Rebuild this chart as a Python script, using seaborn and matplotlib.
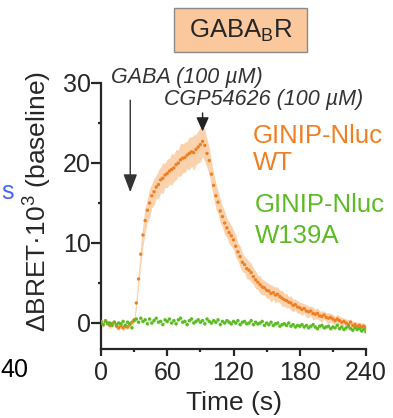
import numpy as np
import pandas as pd
import matplotlib
matplotlib.use("Agg")
import matplotlib.pyplot as plt
from matplotlib.patches import Rectangle
import seaborn as sns

sns.set_style("ticks")
plt.rcParams['font.family'] = ['Liberation Sans', 'DejaVu Sans']

time_s = list(range(0, 241, 2))

wt_mean = [0.2, -0.2, 0.3, 0.0, -0.3, -0.1, 0.1, -0.4, -0.6, -0.3, -0.6, -0.4, -0.5, -0.2, 0.1,
           0.4, 2.5, 5.5, 8.6, 11.0, 12.8, 14.1, 15.0, 15.9, 16.4, 17.0, 17.3, 17.9, 18.1, 18.5,
           18.7, 19.0, 19.2, 19.4, 19.8, 20.0, 20.4, 20.6, 20.7, 21.0, 21.2, 21.4, 21.3, 21.7, 22.0,
           22.3, 22.7, 22.2, 21.2, 20.3, 18.6, 17.2, 15.9, 15.1, 14.0, 13.3, 12.5, 11.9, 11.3, 10.9,
           10.4, 9.6, 8.9, 8.3, 7.6, 7.3, 6.8, 6.6, 6.3, 5.8, 5.4, 5.1, 4.8, 4.5, 4.4,
           4.1, 4.0, 3.7, 3.8, 3.5, 3.6, 3.3, 3.1, 2.9, 2.8, 2.6, 2.5, 2.2, 2.3, 2.0,
           1.9, 1.7, 1.8, 1.5, 1.4, 1.5, 1.2, 1.1, 1.2, 0.9, 0.8, 1.0, 0.7, 0.6, 0.7,
           0.5, 0.3, 0.5, 0.3, 0.1, 0.2, 0.0, -0.2, 0.1, -0.3, -0.2, -0.4, -0.3, -0.5, -0.4, -0.6]

wt_sem = [0.3, 0.4, 0.3, 0.3, 0.4, 0.3, 0.3, 0.4, 0.3, 0.3, 0.4, 0.3, 0.3, 0.4, 0.3,
          0.4, 0.8, 1.0, 1.2, 1.4, 1.6, 1.4, 1.8, 1.5, 1.7, 1.4, 1.8, 1.6, 1.9, 1.5,
          1.8, 1.6, 2.0, 1.7, 1.9, 1.6, 2.1, 1.8, 1.9, 1.7, 2.1, 1.8, 2.2, 1.9, 2.0,
          2.2, 1.9, 2.0, 1.8, 1.7, 1.6, 1.5, 1.6, 1.4, 1.5, 1.3, 1.5, 1.2, 1.4, 1.3,
          1.2, 1.4, 1.1, 1.3, 1.2, 1.0, 1.3, 1.1, 1.2, 1.0, 1.1, 0.9, 1.1, 1.0, 0.9,
          1.0, 0.9, 1.1, 0.8, 1.0, 0.9, 0.8, 1.0, 0.8, 0.9, 0.7, 0.9, 0.8, 0.7, 0.8,
          0.7, 0.8, 0.6, 0.8, 0.7, 0.6, 0.8, 0.6, 0.7, 0.6, 0.7, 0.5, 0.6, 0.7, 0.5,
          0.6, 0.5, 0.6, 0.5, 0.6, 0.4, 0.5, 0.6, 0.4, 0.5, 0.4, 0.5, 0.4, 0.5, 0.4, 0.4]

mut_mean = [0.1, -0.2, 0.2, -0.1, 0.0, -0.3, 0.1, -0.2, 0.0, -0.1, 0.2, -0.3, 0.1, -0.1, -0.6,
            0.3, 0.5, 0.1, 0.6, 0.2, 0.4, -0.1, 0.5, 0.0, 0.3, 0.6, 0.1, 0.2, -0.2, 0.4,
            0.2, 0.5, 0.0, 0.3, -0.1, 0.4, 0.6, 0.1, 0.2, -0.2, 0.3, 0.5, 0.0, 0.2, 0.4,
            0.1, 0.3, -0.1, 0.5, 0.2, 0.0, 0.3, 0.1, 0.4, -0.2, 0.2, 0.0, 0.3, 0.1, -0.1,
            0.2, 0.0, 0.3, -0.2, 0.1, 0.2, -0.1, 0.0, 0.3, -0.2, 0.1, -0.1, 0.0, 0.2, -0.3,
            0.0, -0.2, 0.1, -0.3, -0.1, 0.0, -0.4, -0.2, -0.1, -0.3, 0.0, -0.4, -0.2, -0.5, -0.3,
            -0.4, -0.2, -0.5, -0.3, -0.6, -0.4, -0.2, -0.5, -0.7, -0.4, -0.3, -0.6, -0.5, -0.4, -0.7,
            -0.5, -0.6, -0.3, -0.7, -0.5, -0.8, -0.6, -0.4, -0.7, -0.9, -0.6, -0.8, -0.7, -1.0, -0.8, -1.1]

mut_sem = [0.3] * len(time_s)

orange = "#F07F22"
green = "#5CBB24"

df = pd.DataFrame({
    "t": time_s * 2,
    "v": wt_mean + mut_mean,
    "g": ["WT"] * len(time_s) + ["W139A"] * len(time_s),
})

fig = plt.figure(figsize=(3.93, 4.18), dpi=100)
ax = fig.add_axes([101 / 393, 1 - 349 / 418, 265 / 393, (349 - 83) / 418])

t_arr = np.array(time_s)
ax.fill_between(t_arr, np.array(mut_mean) - np.array(mut_sem), np.array(mut_mean) + np.array(mut_sem),
                color="#DDF2CF", lw=0, zorder=1)
ax.fill_between(t_arr, np.array(wt_mean) - np.array(wt_sem), np.array(wt_mean) + np.array(wt_sem),
                color="#FAD3AE", lw=0, zorder=1)
sns.scatterplot(data=df, x="t", y="v", hue="g", palette={"WT": orange, "W139A": green},
                s=6, linewidth=0, legend=False, ax=ax, zorder=3)

ax.set_xlim(0, 240)
ax.set_ylim(-3.25, 30)
ax.set_xticks([0, 60, 120, 180, 240])
ax.set_xticks([30, 90, 150, 210], minor=True)
ax.set_yticks([0, 10, 20, 30])
ax.set_yticks([5, 15, 25], minor=True)
sns.despine(ax=ax)
for s in ["left", "bottom"]:
    ax.spines[s].set_linewidth(1.6)
ax.tick_params(axis="x", which="major", length=5, width=1.6, labelsize=18, pad=4)
ax.tick_params(axis="y", which="major", length=7, width=1.6, labelsize=18, pad=0.5)
ax.tick_params(which="minor", length=2.5, width=1.6)
ax.set_xlabel("Time (s)", fontsize=19, labelpad=4)
ax.set_ylabel("ΔBRET·10$^\\mathregular{3}$ (baseline)", fontsize=19)
ax.yaxis.set_label_coords(-0.18, 0.553)

# legend texts
ax.text(137.5, 22.5, "GINIP-Nluc", color=orange, fontsize=18.5, ha="left", va="baseline", clip_on=False)
ax.text(137.5, 19.1, "WT", color=orange, fontsize=18.5, ha="left", va="baseline", clip_on=False)
ax.text(139, 13.9, "GINIP-Nluc", color=green, fontsize=18.5, ha="left", va="baseline", clip_on=False)
ax.text(139, 10.0, "W139A", color=green, fontsize=18.5, ha="left", va="baseline", clip_on=False)

# drug annotations
ax.annotate("", xy=(26.5, 16.0), xytext=(26.5, 28.2),
            arrowprops=dict(arrowstyle="-|>,head_length=1.1,head_width=0.42", color="#333333", lw=1.0))
ax.text(9, 30.75, "GABA (100 µM)", fontsize=15.5, style="italic", color="#333333", ha="left", va="center",
        clip_on=False)
ax.annotate("", xy=(92, 23.6), xytext=(92, 26.6),
            arrowprops=dict(arrowstyle="-|>,head_length=0.85,head_width=0.38", color="#222222", lw=1.0))
ax.text(57, 27.9, "CGP54626 (100 µM)", fontsize=15.5, style="italic", color="#333333", ha="left", va="center")

# title box
fig.patches.append(Rectangle((174 / 393, 1 - 52 / 418), 133 / 393, 44 / 418, transform=fig.transFigure,
                             facecolor="#FAC89C", edgecolor="#8A8A8A", lw=1.0))
fig.text(241 / 393, 1 - 31 / 418, "GABA$_\\mathregular{B}$R", fontsize=18.5, ha="center", va="center")

# remnants of neighbouring panel
fig.text(1 / 393, 1 - 192 / 418, "s", color="#4466FF", fontsize=18, ha="left", va="center")
fig.text(0, 1 - 370 / 418, "40", color="black", fontsize=18, ha="left", va="center")

fig.savefig("out.png", dpi=100)
